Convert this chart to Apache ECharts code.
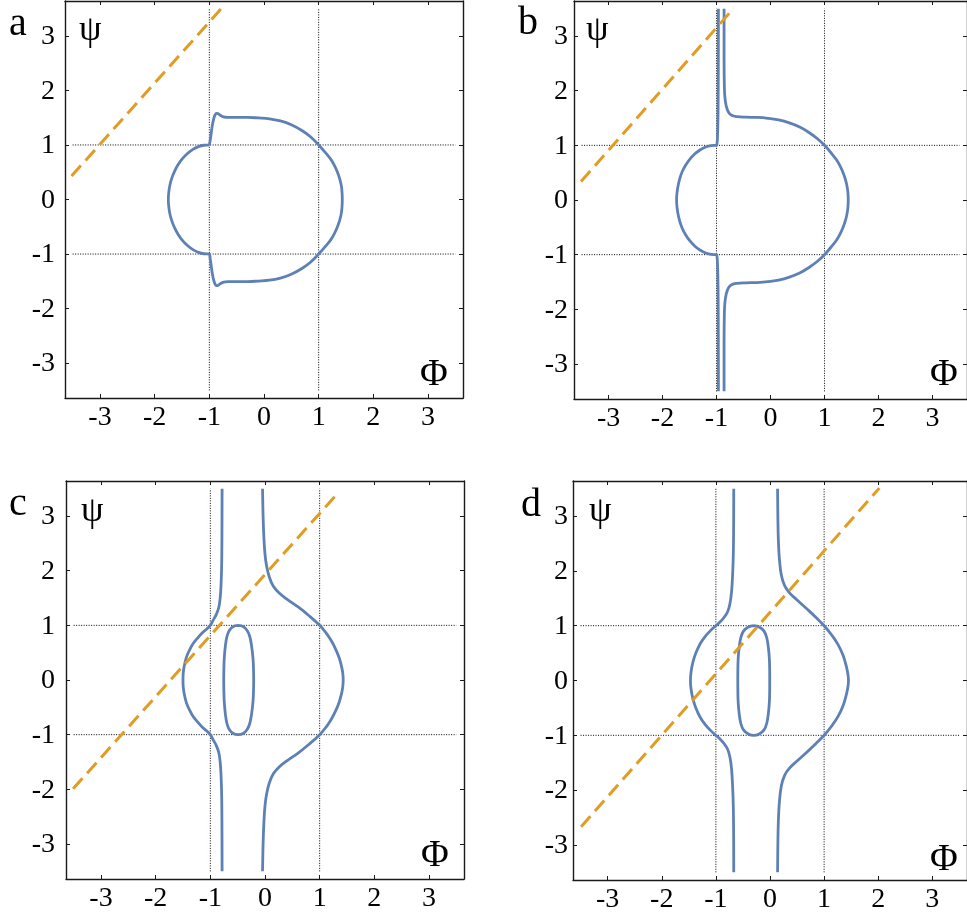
<!DOCTYPE html>
<html>
<head>
<meta charset="utf-8">
<script src="https://cdn.jsdelivr.net/npm/echarts@6/dist/echarts.min.js"></script>
<style>
html, body { margin: 0; padding: 0; background: #fff; }
#chart { width: 967px; height: 915px; }
</style>
</head>
<body>
<div id="chart"></div>
<script>
// tick labels / ranges
const tickValues = [-3, -2, -1, 0, 1, 2, 3];
const guideX = [-1, 1];
const guideY = [-1, 1];
const panelLetters = ['a', 'b', 'c', 'd'];

// panel a : one closed curve
const curveA = [
  [-1.0, 1.0], [-0.985, 1.08], [-0.965, 1.22], [-0.945, 1.36], [-0.92, 1.48], [-0.895, 1.55], [-0.87, 1.58],
  [-0.845, 1.575], [-0.8, 1.545], [-0.74, 1.515], [-0.66, 1.505], [-0.5, 1.505], [-0.3, 1.505], [-0.1, 1.495],
  [0.1, 1.48], [0.3, 1.44], [0.5, 1.37], [0.7, 1.26], [0.85, 1.15], [1.0, 1.0], [1.14, 0.84], [1.22, 0.74],
  [1.285, 0.63], [1.34, 0.51], [1.385, 0.38], [1.415, 0.25], [1.428, 0.12], [1.432, 0],
  [1.428, -0.12], [1.415, -0.25], [1.385, -0.38], [1.34, -0.51], [1.285, -0.63], [1.22, -0.74], [1.14, -0.84],
  [1.0, -1.0], [0.85, -1.15], [0.7, -1.26], [0.5, -1.37], [0.3, -1.44], [0.1, -1.48], [-0.1, -1.495],
  [-0.3, -1.505], [-0.5, -1.505], [-0.66, -1.505], [-0.74, -1.515], [-0.8, -1.545], [-0.845, -1.575],
  [-0.87, -1.58], [-0.895, -1.55], [-0.92, -1.48], [-0.945, -1.36], [-0.965, -1.22], [-0.985, -1.08], [-1.0, -1.0],
  [-1.1, -0.995], [-1.2, -0.97], [-1.3, -0.92], [-1.4, -0.845], [-1.5, -0.74], [-1.57, -0.64], [-1.63, -0.53],
  [-1.68, -0.41], [-1.72, -0.27], [-1.742, -0.13], [-1.75, 0], [-1.742, 0.13], [-1.72, 0.27], [-1.68, 0.41],
  [-1.63, 0.53], [-1.57, 0.64], [-1.5, 0.74], [-1.4, 0.845], [-1.3, 0.92], [-1.2, 0.97], [-1.1, 0.995], [-1.0, 1.0]
];
const dashA = [[-3.52, 0.43], [-0.755, 3.53]];

// panel b
const curveB1 = [
  [-0.965, 3.5], [-0.967, 2.5], [-0.97, 1.8], [-0.975, 1.4], [-0.982, 1.15], [-0.99, 1.04], [-1.0, 1.0],
  [-1.1, 0.995], [-1.2, 0.97], [-1.3, 0.92], [-1.4, 0.845], [-1.5, 0.74], [-1.57, 0.64], [-1.63, 0.53],
  [-1.675, 0.41], [-1.71, 0.27], [-1.732, 0.13], [-1.74, 0], [-1.732, -0.13], [-1.71, -0.27], [-1.675, -0.41],
  [-1.63, -0.53], [-1.57, -0.64], [-1.5, -0.74], [-1.4, -0.845], [-1.3, -0.92], [-1.2, -0.97], [-1.1, -0.995],
  [-1.0, -1.0], [-0.99, -1.04], [-0.982, -1.15], [-0.975, -1.4], [-0.97, -1.8], [-0.967, -2.5], [-0.965, -3.5]
];
const curveB2 = [
  [-0.86, 3.5], [-0.86, 2.6], [-0.855, 2.1], [-0.845, 1.88], [-0.82, 1.72], [-0.78, 1.61], [-0.72, 1.55],
  [-0.62, 1.525], [-0.45, 1.515], [-0.25, 1.51], [-0.05, 1.495], [0.15, 1.465], [0.35, 1.41], [0.55, 1.33],
  [0.72, 1.23], [0.87, 1.12], [1.0, 1.0], [1.14, 0.84], [1.225, 0.73], [1.29, 0.62], [1.345, 0.5], [1.39, 0.37],
  [1.42, 0.24], [1.435, 0.12], [1.44, 0], [1.435, -0.12], [1.42, -0.24], [1.39, -0.37], [1.345, -0.5],
  [1.29, -0.62], [1.225, -0.73], [1.14, -0.84], [1.0, -1.0], [0.87, -1.12], [0.72, -1.23], [0.55, -1.33],
  [0.35, -1.41], [0.15, -1.465], [-0.05, -1.495], [-0.25, -1.51], [-0.45, -1.515], [-0.62, -1.525],
  [-0.72, -1.55], [-0.78, -1.61], [-0.82, -1.72], [-0.845, -1.88], [-0.855, -2.1], [-0.86, -2.6], [-0.86, -3.5]
];
const dashB = [[-3.51, 0.34], [-0.68, 3.51]];

// panel c
const curveC1 = [
  [-0.785, 3.5], [-0.787, 2.8], [-0.79, 2.3], [-0.795, 2.0], [-0.805, 1.72], [-0.82, 1.5], [-0.845, 1.33],
  [-0.89, 1.2], [-0.945, 1.1], [-1.0, 1.0], [-1.07, 0.93], [-1.15, 0.86], [-1.24, 0.76], [-1.32, 0.66],
  [-1.39, 0.53], [-1.44, 0.41], [-1.478, 0.25], [-1.496, 0.12], [-1.5, 0], [-1.496, -0.12], [-1.478, -0.25],
  [-1.44, -0.41], [-1.39, -0.53], [-1.32, -0.66], [-1.24, -0.76], [-1.15, -0.86], [-1.07, -0.93], [-1.0, -1.0],
  [-0.945, -1.1], [-0.89, -1.2], [-0.845, -1.33], [-0.82, -1.5], [-0.805, -1.72], [-0.795, -2.0], [-0.79, -2.3],
  [-0.787, -2.8], [-0.785, -3.5]
];
const curveC2 = [
  [-0.045, 3.5], [-0.035, 3.0], [-0.02, 2.6], [0.0, 2.3], [0.03, 2.08], [0.08, 1.88], [0.15, 1.72],
  [0.25, 1.6], [0.4, 1.48], [0.6, 1.34], [0.8, 1.18], [1.0, 1.0], [1.11, 0.87], [1.205, 0.73], [1.285, 0.58],
  [1.355, 0.41], [1.4, 0.25], [1.423, 0.12], [1.43, 0], [1.423, -0.12], [1.4, -0.25], [1.355, -0.41],
  [1.285, -0.58], [1.205, -0.73], [1.11, -0.87], [1.0, -1.0], [0.8, -1.18], [0.6, -1.34], [0.4, -1.48],
  [0.25, -1.6], [0.15, -1.72], [0.08, -1.88], [0.03, -2.08], [0.0, -2.3], [-0.02, -2.6], [-0.035, -3.0],
  [-0.045, -3.5]
];
const curveC3 = [
  [-0.49, 1.0], [-0.4, 0.98], [-0.33, 0.91], [-0.28, 0.8], [-0.245, 0.62], [-0.22, 0.4], [-0.21, 0.2],
  [-0.207, 0], [-0.21, -0.2], [-0.22, -0.4], [-0.245, -0.62], [-0.28, -0.8], [-0.33, -0.91], [-0.4, -0.98],
  [-0.49, -1.0], [-0.58, -0.98], [-0.65, -0.91], [-0.695, -0.8], [-0.725, -0.62], [-0.745, -0.4],
  [-0.752, -0.2], [-0.755, 0], [-0.752, 0.2], [-0.745, 0.4], [-0.725, 0.62], [-0.695, 0.8], [-0.65, 0.91],
  [-0.58, 0.98], [-0.49, 1.0]
];
const dashC = [[-3.51, -1.99], [1.325, 3.41]];

// panel d
const curveD1 = [
  [-0.67, 3.5], [-0.672, 2.8], [-0.678, 2.3], [-0.69, 1.95], [-0.71, 1.62], [-0.74, 1.4], [-0.785, 1.25],
  [-0.85, 1.15], [-0.92, 1.07], [-1.0, 1.0], [-1.1, 0.91], [-1.2, 0.8], [-1.29, 0.67], [-1.37, 0.5],
  [-1.425, 0.33], [-1.458, 0.16], [-1.47, 0], [-1.458, -0.16], [-1.425, -0.33], [-1.37, -0.5], [-1.29, -0.67],
  [-1.2, -0.8], [-1.1, -0.91], [-1.0, -1.0], [-0.92, -1.07], [-0.85, -1.15], [-0.785, -1.25], [-0.74, -1.4],
  [-0.71, -1.62], [-0.69, -1.95], [-0.678, -2.3], [-0.672, -2.8], [-0.67, -3.5]
];
const curveD2 = [
  [0.14, 3.5], [0.145, 3.0], [0.155, 2.55], [0.175, 2.2], [0.21, 1.92], [0.27, 1.73], [0.36, 1.6],
  [0.5, 1.47], [0.7, 1.29], [0.85, 1.15], [1.0, 1.0], [1.14, 0.83], [1.255, 0.66], [1.35, 0.46],
  [1.415, 0.24], [1.442, 0.1], [1.45, 0], [1.442, -0.1], [1.415, -0.24], [1.35, -0.46], [1.255, -0.66],
  [1.14, -0.83], [1.0, -1.0], [0.85, -1.15], [0.7, -1.29], [0.5, -1.47], [0.36, -1.6], [0.27, -1.73],
  [0.21, -1.92], [0.175, -2.2], [0.155, -2.55], [0.145, -3.0], [0.14, -3.5]
];
const curveD3 = [
  [-0.3, 1.0], [-0.2, 0.975], [-0.11, 0.9], [-0.06, 0.78], [-0.03, 0.6], [-0.012, 0.4], [-0.006, 0.2],
  [-0.005, 0], [-0.006, -0.2], [-0.012, -0.4], [-0.03, -0.6], [-0.06, -0.78], [-0.11, -0.9], [-0.2, -0.975],
  [-0.3, -1.0], [-0.4, -0.975], [-0.49, -0.9], [-0.54, -0.78], [-0.57, -0.6], [-0.588, -0.4], [-0.594, -0.2],
  [-0.595, 0], [-0.594, 0.2], [-0.588, 0.4], [-0.57, 0.6], [-0.54, 0.78], [-0.49, 0.9], [-0.4, 0.975],
  [-0.3, 1.0]
];
const dashD = [[-3.49, -2.67], [2.02, 3.51]];

const panelCurves = [[curveA], [curveB1, curveB2], [curveC1, curveC2, curveC3], [curveD1, curveD2, curveD3]];
const panelDashes = [dashA, dashB, dashC, dashD];

// layout
const AX_MIN = -3.64, AX_MAX = 3.64, PLOT = 3.5;
const grids = [
  { left: 65, top: 1, width: 398, height: 397 },
  { left: 574, top: 1, width: 398, height: 398 },
  { left: 66, top: 481, width: 398, height: 398 },
  { left: 573, top: 481, width: 398, height: 399 }
];
const letterPos = [[9, 24], [518, 23], [9, 504], [521, 505]];
const psiPos = [[79, 31], [586, 31], [81, 512], [589, 512]];
const phiPos = [[420, 375], [930, 375], [421, 856], [930, 860]];
const yLabelRight = [55, 568, 55, 568];

const SERIF = '"Liberation Serif", "Times New Roman", serif';
const frameColor = '#1a1a1a';

function makeAxis(i, pos) {
  return {
    type: 'value', gridIndex: i, position: pos, min: AX_MIN, max: AX_MAX,
    axisLine: { show: true, onZero: false, lineStyle: { color: frameColor, width: 1.4 } },
    axisTick: { show: true, inside: true, length: 4, customValues: tickValues,
      lineStyle: { color: frameColor, width: 1 } },
    axisLabel: { show: false },
    splitLine: { show: false }
  };
}

const xAxis = [], yAxis = [], series = [], graphic = [];
grids.forEach((g, i) => {
  xAxis.push(makeAxis(i, 'bottom'), makeAxis(i, 'top'));
  yAxis.push(makeAxis(i, 'left'), makeAxis(i, 'right'));
  const ax = { xAxisIndex: 2 * i, yAxisIndex: 2 * i };
  guideX.forEach(gx => series.push(Object.assign({
    type: 'line', data: [[gx, -PLOT], [gx, PLOT]], showSymbol: false, silent: true, z: 1,
    lineStyle: { color: '#000', width: 1, type: [1, 1.5] }
  }, ax)));
  guideY.forEach(gy => series.push(Object.assign({
    type: 'line', data: [[-PLOT, gy], [PLOT, gy]], showSymbol: false, silent: true, z: 1,
    lineStyle: { color: '#000', width: 1, type: [1, 1.5] }
  }, ax)));
  panelCurves[i].forEach(c => series.push(Object.assign({
    type: 'line', data: c, showSymbol: false, smooth: 0.4, silent: true, z: 3,
    lineStyle: { color: '#5E81B5', width: 2.8 }
  }, ax)));
  series.push(Object.assign({
    type: 'line', data: panelDashes[i], showSymbol: false, silent: true, z: 4,
    lineStyle: { color: '#E19C24', width: 3, type: [14, 7] }
  }, ax));

  graphic.push({ type: 'text', x: letterPos[i][0], y: letterPos[i][1],
    style: { text: panelLetters[i], font: '40px ' + SERIF, fill: '#000', verticalAlign: 'middle' } });
  graphic.push({ type: 'text', x: psiPos[i][0], y: psiPos[i][1],
    style: { text: 'ψ', font: '36px ' + SERIF, fill: '#000', verticalAlign: 'middle' } });
  graphic.push({ type: 'text', x: phiPos[i][0], y: phiPos[i][1],
    style: { text: 'Φ', font: '38px ' + SERIF, fill: '#000', verticalAlign: 'middle' } });
});

const chart = echarts.init(document.getElementById('chart'), null, { renderer: 'canvas' });
chart.setOption({
  animation: false,
  backgroundColor: '#fff',
  grid: grids.map(g => Object.assign({ containLabel: false }, g)),
  xAxis: xAxis,
  yAxis: yAxis,
  series: series
});

// tick labels placed through the axes' own scales
const labelFont = '28px ' + SERIF;
grids.forEach((g, i) => {
  tickValues.forEach(v => {
    const px = chart.convertToPixel({ xAxisIndex: 2 * i }, v);
    const py = chart.convertToPixel({ yAxisIndex: 2 * i }, v);
    graphic.push({ type: 'text', x: px, y: g.top + g.height + 19.5,
      style: { text: String(v), font: labelFont, fill: '#000', align: 'center', verticalAlign: 'middle' } });
    graphic.push({ type: 'text', x: yLabelRight[i], y: py + 1,
      style: { text: String(v), font: labelFont, fill: '#000', align: 'right', verticalAlign: 'middle' } });
  });
});
chart.setOption({ graphic: graphic });
</script>
</body>
</html>
